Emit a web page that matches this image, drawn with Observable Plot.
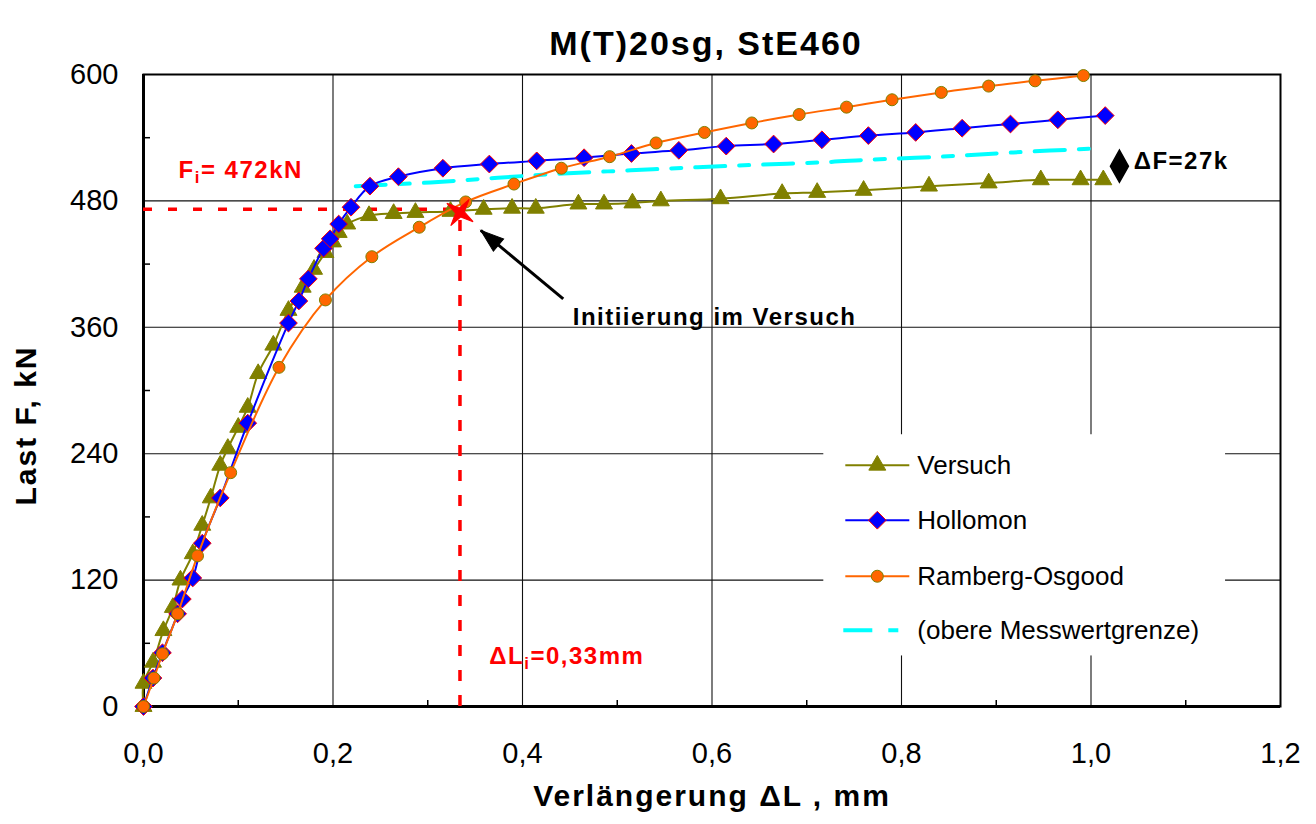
<!DOCTYPE html>
<html><head><meta charset="utf-8">
<script src="https://cdn.jsdelivr.net/npm/d3@7"></script>
<script src="https://cdn.jsdelivr.net/npm/@observablehq/plot@0.6"></script>
<style>
html,body{margin:0;padding:0;background:#fff;}
#chart svg{display:block;}
</style></head><body><div id="chart"></div>
<script>
// ---------- data ----------
const title = "M(T)20sg, StE460";
const xTitle = "Verlängerung ΔL , mm";
const yTitle = "Last F, kN";
const seriesNames = ["Versuch", "Hollomon", "Ramberg-Osgood", "(obere Messwertgrenze)"];

const xTicks = [0, 0.2, 0.4, 0.6, 0.8, 1.0, 1.2];
const yTicks = [0, 120, 240, 360, 480, 600];
const xMinor = [0.1, 0.3, 0.5, 0.7, 0.9, 1.1];
const yMinor = [60, 180, 300, 420, 540];

const versuchX = [0, 0, 0.010, 0.021, 0.031, 0.039, 0.052, 0.062, 0.071, 0.081, 0.089, 0.100, 0.110, 0.121, 0.137, 0.153, 0.168, 0.180, 0.192, 0.200, 0.206, 0.215, 0.238, 0.264, 0.287, 0.324, 0.359, 0.389, 0.414, 0.459, 0.486, 0.516, 0.546, 0.609, 0.674, 0.711, 0.760, 0.829, 0.892, 0.947, 0.989, 1.013];
const versuchY = [0, 22, 42, 72, 94, 120, 145, 172, 198, 229, 245, 265, 284, 316, 343, 376, 398, 415, 431, 441, 450, 458, 466, 468, 469, 470, 472, 473, 473, 477, 477, 478, 480, 482, 487, 488, 490, 494, 497, 500, 500, 500];

const hollomonX = [0, 0.010, 0.020, 0.036, 0.041, 0.052, 0.062, 0.081, 0.110, 0.153, 0.164, 0.174, 0.190, 0.197, 0.206, 0.219, 0.239, 0.269, 0.316, 0.365, 0.415, 0.465, 0.515, 0.565, 0.615, 0.665, 0.716, 0.765, 0.815, 0.864, 0.915, 0.965, 1.015];
const hollomonY = [0, 27, 51, 88, 102, 122, 155, 198, 269, 364, 385, 406, 435, 444, 458, 474, 494, 503, 511, 515, 518, 521, 525, 528, 532, 534, 538, 542, 545, 549, 553, 557, 561];

const rambergX = [0, 0.011, 0.020, 0.036, 0.057, 0.092, 0.143, 0.192, 0.241, 0.291, 0.340, 0.391, 0.441, 0.492, 0.541, 0.592, 0.642, 0.692, 0.742, 0.790, 0.842, 0.892, 0.941, 0.992];
const rambergY = [0, 27, 50, 88, 143, 222, 322, 386, 427, 455, 479, 496, 511, 522, 535, 545, 554, 562, 569, 576, 583, 589, 594, 599];

const grenzeX = [0.224, 0.303, 0.374, 0.443, 0.514, 0.585, 0.654, 0.725, 0.764, 0.841, 0.918, 1.010];
const grenzeY = [494, 497.5, 502, 506, 509, 512, 514.5, 517, 519, 522, 526, 530];

const Fi = 472;          // kN
const dLi = 0.334;       // mm (drawn position of 0,33)
const initPoint = [{x: 0.334, y: 469}];
const arrowFrom = {x: 0.443, y: 387};
const arrowTo = {x: 0.356, y: 452};
const deltaFMark = [{x: 1.030, y: 513}];
const annotations = [
  {x: 0.037, y: 509.5, text: "F_i= 472kN", color: "#FF0000"},
  {x: 0.365, y: 47.5, text: "ΔL_i=0,33mm", color: "#FF0000"},
  {x: 0.453, y: 369.3, text: "Initiierung im Versuch", color: "#000000"},
  {x: 1.045, y: 518, text: "ΔF=27k", color: "#000000"}
];
const legendBox = [{x1: 0.718, x2: 1.142, y1: 48, y2: 258}];

// ---------- build ----------
const toPts = (X, Y) => X.map((x, i) => ({x, y: Y[i]}));
const versuch = toPts(versuchX, versuchY);
const hollomon = toPts(hollomonX, hollomonY);
const ramberg = toPts(rambergX, rambergY);
const grenze = toPts(grenzeX, grenzeY);

const OLIVE = "#808000", BLUE = "#0000FF", ORANGE = "#FF6600", CYAN = "#00FFFF", RED = "#FF0000";
const FONT = "'Liberation Sans', Arial, Helvetica, sans-serif";

const star4 = {draw(ctx) {
  const R = 16, r = 4.5;
  for (let k = 0; k < 8; k++) {
    const a = (k * 45 + 45) * Math.PI / 180;
    const rad = k % 2 === 0 ? R : r;
    const px = rad * Math.cos(a), py = rad * Math.sin(a);
    if (k === 0) ctx.moveTo(px, py); else ctx.lineTo(px, py);
  }
  ctx.closePath();
}};
const tallDiamond = {draw(ctx) {
  ctx.moveTo(0, -16); ctx.lineTo(9, 0); ctx.lineTo(0, 16); ctx.lineTo(-9, 0); ctx.closePath();
}};
const arrowHead = {draw(ctx) {
  ctx.moveTo(0, 0); ctx.lineTo(8, 23); ctx.lineTo(-8, 23); ctx.closePath();
}};

const W = 1316, H = 824, mL = 143, mR = 36, mT = 74, mB = 118;
const kx = (W - mL - mR) / 1.2, ky = (H - mT - mB) / 600;
const arrowAngle = Math.atan2((arrowTo.x - arrowFrom.x) * kx, (arrowTo.y - arrowFrom.y) * ky) * 180 / Math.PI;

const plot = Plot.plot({
  width: W, height: H,
  marginTop: mT, marginBottom: mB, marginLeft: mL, marginRight: mR,
  style: {fontFamily: FONT, fontSize: "29px", color: "#000", background: "#fff", overflow: "visible"},
  x: {domain: [0, 1.2], label: null},
  y: {domain: [0, 600], label: null},
  marks: [
    Plot.gridX(xTicks.slice(1, -1), {stroke: "#111", strokeOpacity: 1, strokeWidth: 1.1}),
    Plot.gridY(yTicks.slice(1, -1), {stroke: "#111", strokeOpacity: 1, strokeWidth: 1.1}),
    Plot.rect(legendBox, {x1: "x1", x2: "x2", y1: "y1", y2: "y2", fill: "#fff"}),
    Plot.axisX(xTicks, {tickSize: 0, tickPadding: 36, fontSize: 29, tickFormat: d => d.toFixed(1).replace(".", ","), label: null}),
    Plot.axisY(yTicks, {tickSize: 0, tickPadding: 25, fontSize: 29, tickFormat: d => String(d), label: null}),
    Plot.axisX(xMinor, {tickSize: 6, dy: -6, strokeWidth: 1.5, tickFormat: () => "", label: null}),
    Plot.axisY(yMinor, {tickSize: 7, dx: 7, strokeWidth: 1.5, tickFormat: () => "", label: null}),
    Plot.frame({stroke: "#000", strokeWidth: 2}),
    Plot.ruleX([0], {stroke: "#000", strokeWidth: 3}),
    Plot.ruleY([0], {stroke: "#000", strokeWidth: 3}),
    // red guide lines
    Plot.ruleY([Fi], {x1: 0, x2: dLi, stroke: RED, strokeWidth: 3.5, strokeDasharray: "9,16"}),
    Plot.ruleX([dLi], {y1: 0, y2: Fi, stroke: RED, strokeWidth: 3.5, strokeDasharray: "11,14"}),
    // upper measurement limit
    Plot.line(grenze, {x: "x", y: "y", stroke: CYAN, strokeWidth: 4, strokeDasharray: "30,14,10,14", curve: "catmull-rom"}),
    // Versuch
    Plot.line(versuch, {x: "x", y: "y", stroke: OLIVE, strokeWidth: 2, curve: "catmull-rom"}),
    Plot.dot(versuch, {x: "x", y: "y", symbol: "triangle", r: 6.3, fill: OLIVE, stroke: OLIVE, strokeWidth: 1}),
    // Hollomon
    Plot.line(hollomon, {x: "x", y: "y", stroke: BLUE, strokeWidth: 2, curve: "catmull-rom"}),
    Plot.dot(hollomon, {x: "x", y: "y", symbol: "diamond2", r: 8, fill: BLUE, stroke: RED, strokeWidth: 1}),
    // Ramberg-Osgood
    Plot.line(ramberg, {x: "x", y: "y", stroke: ORANGE, strokeWidth: 2, curve: "catmull-rom"}),
    Plot.dot(ramberg, {x: "x", y: "y", r: 6, fill: ORANGE, stroke: OLIVE, strokeWidth: 1}),
    // initiation star
    Plot.dot(initPoint, {x: "x", y: "y", symbol: star4, fill: RED, stroke: RED, strokeWidth: 1, rotate: -10}),
    // arrow
    Plot.link([{x1: arrowFrom.x, y1: arrowFrom.y, x2: arrowTo.x, y2: arrowTo.y}], {x1: "x1", y1: "y1", x2: "x2", y2: "y2", stroke: "#000", strokeWidth: 3}),
    Plot.dot([arrowTo], {x: "x", y: "y", symbol: arrowHead, fill: "#000", stroke: "#000", strokeWidth: 1, rotate: arrowAngle}),
    // delta F marker
    Plot.dot(deltaFMark, {x: "x", y: "y", symbol: tallDiamond, fill: "#000", stroke: "#000"}),
    // annotations
    Plot.text(annotations, {x: "x", y: "y", text: "text", fill: d => d.color, fontSize: 24, fontWeight: "bold", textAnchor: "start"}),
    // titles
    Plot.text([title], {frameAnchor: "top", textAnchor: "middle", dy: -44, dx: -6, fontSize: 34, fontWeight: "bold"}),
    Plot.text([xTitle], {frameAnchor: "bottom", textAnchor: "middle", dy: 99, fontSize: 30, fontWeight: "bold"}),
    Plot.text([yTitle], {frameAnchor: "left", textAnchor: "middle", dx: -117, dy: 35, rotate: -90, fontSize: 30, fontWeight: "bold"})
  ]
});

document.getElementById("chart").appendChild(plot);

// letter spacing to mimic the wide rendering of the original
const spacing = new Map([[title, 2], [xTitle, 2], [yTitle, 2]]);
annotations.forEach(a => spacing.set(a.text, 1.5));
const svg = d3.select(plot);
svg.selectAll("text").each(function() {
  const s = this.textContent;
  if (spacing.has(s)) this.style.letterSpacing = spacing.get(s) + "px";
});
// subscripts
svg.selectAll("text").filter(function() { return this.textContent.includes("_"); }).each(function() {
  const s = this.textContent, k = s.indexOf("_");
  const t = d3.select(this);
  t.text(null);
  t.append("tspan").text(s.slice(0, k));
  t.append("tspan").attr("dy", 5).attr("font-size", "70%").text(s[k + 1]);
  t.append("tspan").attr("dy", -5).text(s.slice(k + 2));
});

// legend entries (inside the white legend box)
const sx = plot.scale("x"), sy = plot.scale("y");
const bx0 = sx.apply(legendBox[0].x1), by0 = sy.apply(legendBox[0].y2);
const lg = svg.append("g").attr("font-family", FONT).attr("font-size", 26).attr("text-anchor", "start");
const rowY = [31, 86, 142, 196].map(o => by0 + o);
const lineX0 = bx0 + 22, lineX1 = bx0 + 86, markX = bx0 + 54, textX = bx0 + 94;
const legendStyles = [
  {stroke: OLIVE, sym: d3.symbolTriangle, r: 6.3, fill: OLIVE, mstroke: OLIVE},
  {stroke: BLUE, sym: d3.symbolDiamond2, r: 8, fill: BLUE, mstroke: RED},
  {stroke: ORANGE, sym: d3.symbolCircle, r: 6, fill: ORANGE, mstroke: OLIVE},
  {stroke: CYAN, dash: "29,16,10,200", width: 4}
];
seriesNames.forEach((name, i) => {
  const st = legendStyles[i], y = rowY[i];
  if (st.dash) {
    lg.append("line").attr("x1", lineX0 - 2).attr("x2", lineX1).attr("y1", y).attr("y2", y)
      .attr("stroke", st.stroke).attr("stroke-width", st.width).attr("stroke-dasharray", st.dash);
  } else {
    lg.append("line").attr("x1", lineX0).attr("x2", lineX1).attr("y1", y).attr("y2", y)
      .attr("stroke", st.stroke).attr("stroke-width", 2);
    lg.append("path").attr("transform", `translate(${markX},${y})`)
      .attr("d", d3.symbol(st.sym, st.r * st.r * Math.PI)())
      .attr("fill", st.fill).attr("stroke", st.mstroke).attr("stroke-width", 1);
  }
  lg.append("text").attr("x", textX).attr("y", y).attr("dy", "0.35em").attr("text-anchor", "start").attr("fill", "#000").text(name);
});
</script>
</body></html>
